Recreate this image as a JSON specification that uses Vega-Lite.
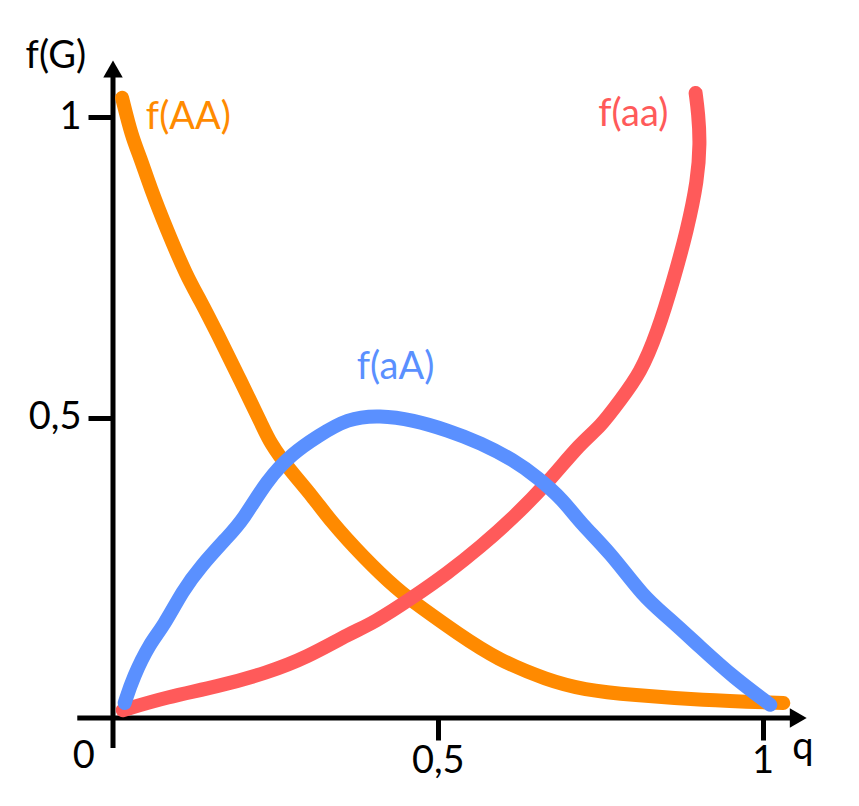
{
  "$schema": "https://vega.github.io/schema/vega-lite/v6.json",
  "width": 695,
  "height": 661,
  "autosize": {"type": "none"},
  "padding": {"left": 113, "top": 57, "right": 51, "bottom": 88},
  "background": "white",
  "config": {"view": {"stroke": null}, "font": "Lato"},
  "datasets": {
    "curves": [
      {"s": "AA", "i": 1, "q": 0.014, "f": 1.032},
      {"s": "AA", "i": 2, "q": 0.029, "f": 0.967},
      {"s": "AA", "i": 3, "q": 0.042, "f": 0.933},
      {"s": "AA", "i": 4, "q": 0.057, "f": 0.884},
      {"s": "AA", "i": 5, "q": 0.083, "f": 0.812},
      {"s": "AA", "i": 6, "q": 0.114, "f": 0.734},
      {"s": "AA", "i": 7, "q": 0.134, "f": 0.696},
      {"s": "AA", "i": 8, "q": 0.160, "f": 0.641},
      {"s": "AA", "i": 9, "q": 0.196, "f": 0.562},
      {"s": "AA", "i": 10, "q": 0.231, "f": 0.484},
      {"s": "AA", "i": 11, "q": 0.242, "f": 0.458},
      {"s": "AA", "i": 12, "q": 0.268, "f": 0.418},
      {"s": "AA", "i": 13, "q": 0.308, "f": 0.368},
      {"s": "AA", "i": 14, "q": 0.334, "f": 0.329},
      {"s": "AA", "i": 15, "q": 0.385, "f": 0.268},
      {"s": "AA", "i": 16, "q": 0.438, "f": 0.213},
      {"s": "AA", "i": 17, "q": 0.473, "f": 0.185},
      {"s": "AA", "i": 18, "q": 0.530, "f": 0.141},
      {"s": "AA", "i": 19, "q": 0.592, "f": 0.097},
      {"s": "AA", "i": 20, "q": 0.669, "f": 0.063},
      {"s": "AA", "i": 21, "q": 0.724, "f": 0.047},
      {"s": "AA", "i": 22, "q": 0.801, "f": 0.038},
      {"s": "AA", "i": 23, "q": 0.904, "f": 0.030},
      {"s": "AA", "i": 24, "q": 1.032, "f": 0.025},
      {"s": "aA", "i": 1, "q": 0.018, "f": 0.025},
      {"s": "aA", "i": 2, "q": 0.031, "f": 0.068},
      {"s": "aA", "i": 3, "q": 0.057, "f": 0.125},
      {"s": "aA", "i": 4, "q": 0.077, "f": 0.151},
      {"s": "aA", "i": 5, "q": 0.108, "f": 0.213},
      {"s": "aA", "i": 6, "q": 0.134, "f": 0.251},
      {"s": "aA", "i": 7, "q": 0.176, "f": 0.301},
      {"s": "aA", "i": 8, "q": 0.200, "f": 0.329},
      {"s": "aA", "i": 9, "q": 0.237, "f": 0.396},
      {"s": "aA", "i": 10, "q": 0.277, "f": 0.441},
      {"s": "aA", "i": 11, "q": 0.314, "f": 0.468},
      {"s": "aA", "i": 12, "q": 0.361, "f": 0.499},
      {"s": "aA", "i": 13, "q": 0.411, "f": 0.504},
      {"s": "aA", "i": 14, "q": 0.462, "f": 0.496},
      {"s": "aA", "i": 15, "q": 0.515, "f": 0.479},
      {"s": "aA", "i": 16, "q": 0.566, "f": 0.458},
      {"s": "aA", "i": 17, "q": 0.617, "f": 0.429},
      {"s": "aA", "i": 18, "q": 0.653, "f": 0.401},
      {"s": "aA", "i": 19, "q": 0.693, "f": 0.363},
      {"s": "aA", "i": 20, "q": 0.720, "f": 0.324},
      {"s": "aA", "i": 21, "q": 0.766, "f": 0.275},
      {"s": "aA", "i": 22, "q": 0.817, "f": 0.201},
      {"s": "aA", "i": 23, "q": 0.854, "f": 0.168},
      {"s": "aA", "i": 24, "q": 0.904, "f": 0.118},
      {"s": "aA", "i": 25, "q": 0.955, "f": 0.068},
      {"s": "aA", "i": 26, "q": 1.012, "f": 0.022},
      {"s": "aa", "i": 1, "q": 0.015, "f": 0.013},
      {"s": "aa", "i": 2, "q": 0.083, "f": 0.035},
      {"s": "aa", "i": 3, "q": 0.160, "f": 0.052},
      {"s": "aa", "i": 4, "q": 0.237, "f": 0.075},
      {"s": "aa", "i": 5, "q": 0.299, "f": 0.101},
      {"s": "aa", "i": 6, "q": 0.365, "f": 0.141},
      {"s": "aa", "i": 7, "q": 0.401, "f": 0.158},
      {"s": "aa", "i": 8, "q": 0.462, "f": 0.201},
      {"s": "aa", "i": 9, "q": 0.515, "f": 0.241},
      {"s": "aa", "i": 10, "q": 0.566, "f": 0.285},
      {"s": "aa", "i": 11, "q": 0.617, "f": 0.334},
      {"s": "aa", "i": 12, "q": 0.669, "f": 0.391},
      {"s": "aa", "i": 13, "q": 0.720, "f": 0.458},
      {"s": "aa", "i": 14, "q": 0.750, "f": 0.484},
      {"s": "aa", "i": 15, "q": 0.781, "f": 0.529},
      {"s": "aa", "i": 16, "q": 0.812, "f": 0.574},
      {"s": "aa", "i": 17, "q": 0.838, "f": 0.641},
      {"s": "aa", "i": 18, "q": 0.863, "f": 0.729},
      {"s": "aa", "i": 19, "q": 0.884, "f": 0.812},
      {"s": "aa", "i": 20, "q": 0.900, "f": 0.895},
      {"s": "aa", "i": 21, "q": 0.904, "f": 0.957},
      {"s": "aa", "i": 22, "q": 0.901, "f": 1.007},
      {"s": "aa", "i": 23, "q": 0.897, "f": 1.040}
    ],
    "axisLines": [
      {"x": 0, "x2": 0, "y": -0.05, "y2": 1.075},
      {"x": -0.055, "x2": 1.055, "y": 0, "y2": 0}
    ],
    "arrows": [
      {"x": 0, "y": 1.08, "shape": "triangle-up"},
      {"x": 1.055, "y": 0, "shape": "triangle-right"}
    ],
    "axisText": [
      {"x": -0.045, "y": -0.065, "t": "0"},
      {"x": 1.062, "y": -0.05, "t": "q"},
      {"x": -0.088, "y": 1.1, "t": "f(G)"}
    ],
    "labels": [
      {"x": 0.116, "y": 0.998, "t": "f(AA)", "s": "AA"},
      {"x": 0.435, "y": 0.582, "t": "f(aA)", "s": "aA"},
      {"x": 0.801, "y": 1.003, "t": "f(aa)", "s": "aa"}
    ]
  },
  "layer": [
    {
      "data": {"name": "axisLines"},
      "mark": {"type": "rule", "color": "black", "strokeWidth": 5},
      "encoding": {
        "x": {"field": "x", "type": "quantitative", "scale": {"domain": [0, 1.07], "nice": false, "zero": false},
          "axis": {"values": [0.5, 1], "format": "~g", "title": null, "domain": false, "grid": false, "tickSize": 22, "tickWidth": 5, "tickColor": "black", "labelFontSize": 38, "labelColor": "black", "labelPadding": 2, "labelFont": "Lato", "labelExpr": "replace(datum.label, '.', ',')"}},
        "x2": {"field": "x2"},
        "y": {"field": "y", "type": "quantitative", "scale": {"domain": [0, 1.1], "nice": false, "zero": false},
          "axis": {"values": [0.5, 1], "format": "~g", "title": null, "domain": false, "grid": false, "tickSize": 25, "tickWidth": 5, "tickColor": "black", "labelFontSize": 38, "labelColor": "black", "labelPadding": 7, "labelFont": "Lato", "labelExpr": "replace(datum.label, '.', ',')"}},
        "y2": {"field": "y2"}
      }
    },
    {
      "data": {"name": "arrows"},
      "mark": {"type": "point", "filled": true, "color": "black", "opacity": 1, "size": 380},
      "encoding": {
        "x": {"field": "x", "type": "quantitative"},
        "y": {"field": "y", "type": "quantitative"},
        "shape": {"field": "shape", "type": "nominal", "scale": null}
      }
    },
    {
      "data": {"name": "axisText"},
      "mark": {"type": "text", "fontSize": 38, "font": "Lato", "color": "black", "baseline": "middle", "align": "center"},
      "encoding": {
        "x": {"field": "x", "type": "quantitative"},
        "y": {"field": "y", "type": "quantitative"},
        "text": {"field": "t"}
      }
    },
    {
      "data": {"name": "curves"},
      "transform": [{"filter": "datum.s == 'AA'"}],
      "mark": {"type": "line", "strokeWidth": 14, "strokeCap": "round", "strokeJoin": "round", "interpolate": "basis"},
      "encoding": {
        "x": {"field": "q", "type": "quantitative"},
        "y": {"field": "f", "type": "quantitative"},
        "order": {"field": "i", "type": "quantitative"},
        "color": {"field": "s", "type": "nominal", "scale": {"domain": ["AA", "aA", "aa"], "range": ["#FF8A00", "#5A90FF", "#FF5A5A"]}, "legend": null}
      }
    },
    {
      "data": {"name": "curves"},
      "transform": [{"filter": "datum.s == 'aa'"}],
      "mark": {"type": "line", "strokeWidth": 14, "strokeCap": "round", "strokeJoin": "round", "interpolate": "basis"},
      "encoding": {
        "x": {"field": "q", "type": "quantitative"},
        "y": {"field": "f", "type": "quantitative"},
        "order": {"field": "i", "type": "quantitative"},
        "color": {"field": "s", "type": "nominal", "legend": null}
      }
    },
    {
      "data": {"name": "curves"},
      "transform": [{"filter": "datum.s == 'aA'"}],
      "mark": {"type": "line", "strokeWidth": 14, "strokeCap": "round", "strokeJoin": "round", "interpolate": "basis"},
      "encoding": {
        "x": {"field": "q", "type": "quantitative"},
        "y": {"field": "f", "type": "quantitative"},
        "order": {"field": "i", "type": "quantitative"},
        "color": {"field": "s", "type": "nominal", "legend": null}
      }
    },
    {
      "data": {"name": "labels"},
      "mark": {"type": "text", "fontSize": 38, "font": "Lato", "baseline": "middle", "align": "center"},
      "encoding": {
        "x": {"field": "x", "type": "quantitative"},
        "y": {"field": "y", "type": "quantitative"},
        "text": {"field": "t"},
        "color": {"field": "s", "type": "nominal", "legend": null}
      }
    }
  ]
}
